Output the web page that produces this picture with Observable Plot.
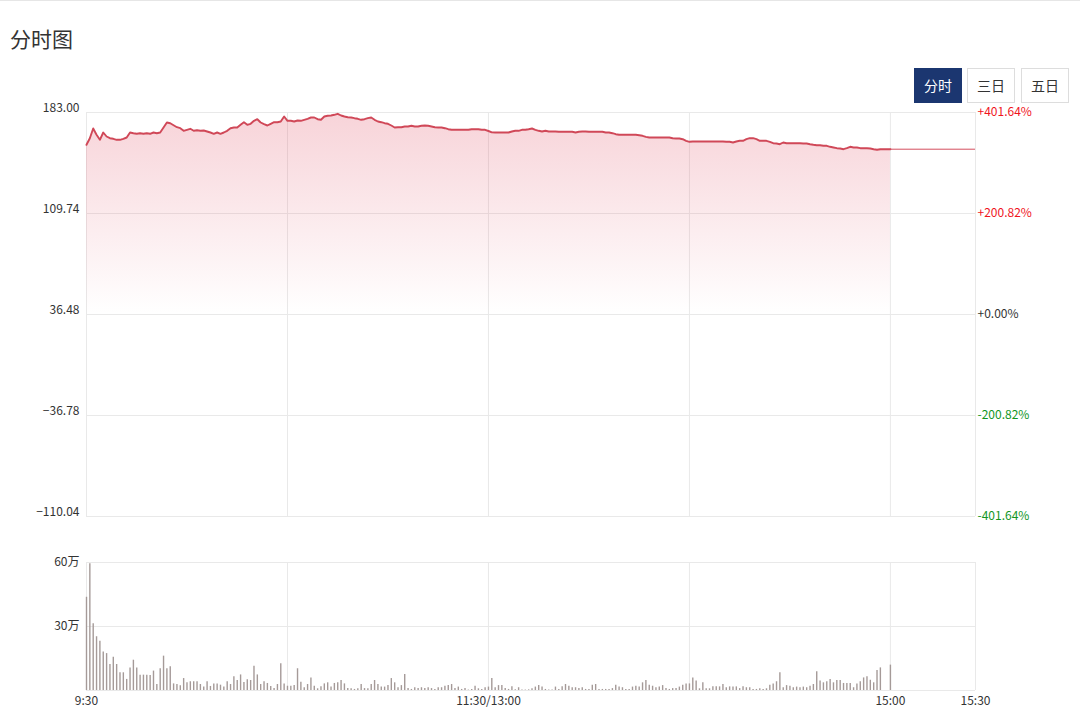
<!DOCTYPE html>
<html>
<head>
<meta charset="utf-8">
<script src="https://cdn.jsdelivr.net/npm/d3@7"></script>
<script src="https://cdn.jsdelivr.net/npm/@observablehq/plot@0.6"></script>
<style>
  body { margin: 0; background: #fff; font-family: "Noto Sans CJK SC", sans-serif; }
  #page { position: relative; width: 1080px; height: 719px; border-top: 1px solid #e6e6e6; box-sizing: border-box; overflow: hidden; }
  #title { position: absolute; left: 10px; top: 22px; font-size: 21px; color: #333; }
  .btn { position: absolute; top: 67px; width: 46px; height: 33px; line-height: 33px; text-align: center;
         font-size: 14px; color: #333; border: 1px solid #ddd; background: #fff; }
  .btn.on { background: #1b3670; border-color: #1b3670; color: #fff; }
  #price { position: absolute; left: 0; top: 98px; }
  #volume { position: absolute; left: 0; top: 548px; }
</style>
</head>
<body>
<div id="page">
  <div id="title">分时图</div>
  <div class="btn on" style="left:914px">分时</div>
  <div class="btn" style="left:967px">三日</div>
  <div class="btn" style="left:1021px">五日</div>
  <div id="price"></div>
  <div id="volume"></div>
</div>
<script>
// 分时价格 (每分钟, 9:30 -> 15:00, 共 241 点)
const prices = [
  159.57,164.36,171.39,166.82,163.20,168.49,165.59,164.36,163.92,163.20,
  163.20,163.92,164.87,168.49,167.98,167.55,167.98,167.55,167.98,167.55,
  168.49,167.98,168.49,172.12,175.75,175.24,173.79,172.34,171.61,169.73,
  170.45,171.18,169.73,170.16,169.73,169.94,169.22,168.49,167.55,168.49,
  167.55,168.49,169.73,171.61,172.12,172.12,174.08,175.96,174.08,174.80,
  176.98,178.14,175.75,174.51,173.57,174.80,175.96,175.96,176.47,180.10,
  176.98,176.98,176.47,177.20,176.98,177.71,178.43,179.37,179.37,178.14,
  177.71,180.10,180.61,180.82,181.33,182.06,180.82,180.10,179.59,179.37,
  178.87,178.43,177.71,178.14,178.87,179.37,177.71,176.47,175.96,175.24,
  174.80,173.57,172.12,172.34,172.34,172.85,172.85,173.35,172.85,172.85,
  173.35,173.57,173.35,172.85,172.34,172.12,172.12,171.61,170.89,170.45,
  170.45,170.45,170.45,170.45,170.45,170.89,170.89,170.89,170.45,170.45,
  169.58,168.60,168.49,168.49,168.49,168.49,168.49,169.22,169.73,169.73,
  170.45,170.45,170.89,171.39,170.45,169.73,169.22,169.73,169.22,169.22,
  169.22,169.00,169.00,169.00,169.00,169.00,168.49,169.00,169.22,169.22,
  169.00,169.00,169.00,169.00,169.00,168.49,168.49,167.98,167.26,166.82,
  166.82,166.82,166.82,166.82,166.82,166.53,166.10,165.37,164.87,164.87,
  164.87,164.87,164.87,164.87,164.87,164.36,164.14,164.14,163.63,162.47,
  161.75,161.97,161.97,161.97,161.97,161.97,161.97,161.97,161.97,161.97,
  161.97,161.75,161.75,161.24,161.97,162.47,162.47,163.63,164.36,164.36,
  163.63,162.47,162.47,162.47,161.75,160.73,160.51,160.01,161.24,160.73,
  160.73,160.73,160.73,160.73,160.51,160.51,160.01,159.57,159.28,159.28,
  158.85,158.85,158.12,157.61,157.11,156.89,156.38,157.11,158.12,157.61,
  157.61,157.11,157.11,157.11,156.89,156.38,155.94,156.38,156.38,156.38,
  156.38
];

// 成交量 (万)
const volumes = [
  43.7,59.4,31.3,25.2,23.1,18.0,17.3,12.2,15.6,12.2,
  8.3,8.3,5.2,10.6,14.2,10.6,7.2,7.2,7.2,7.0,
  9.1,2.8,10.2,16.1,10.2,11.1,3.1,2.8,2.2,5.6,
  3.6,4.1,4.1,4.1,2.8,1.6,4.1,1.9,3.1,3.1,
  2.5,1.6,4.1,2.8,6.4,4.7,7.3,3.8,5.0,4.7,
  11.4,7.3,2.8,4.1,3.3,1.9,0.9,2.8,12.5,3.1,
  2.0,2.0,2.3,10.2,3.9,1.3,2.8,5.9,2.0,0.8,
  1.7,3.1,3.6,1.6,3.3,3.6,4.7,3.1,0.9,0.8,
  0.5,0.8,2.8,0.9,0.8,2.8,4.7,2.8,1.6,1.6,
  2.3,5.6,3.6,1.3,2.3,7.5,0.9,0.5,1.3,0.9,
  1.3,0.9,1.3,0.9,0.5,1.3,1.3,2.0,2.3,2.8,
  0.9,1.6,0.5,0.9,0.2,0.5,2.0,0.8,0.5,1.3,
  1.6,5.6,1.3,2.3,2.3,0.9,0.5,1.7,0.3,1.3,
  0.2,0.2,0.3,0.8,1.6,2.3,1.6,0.5,0.2,0.2,
  1.6,0.5,1.7,2.8,2.0,1.3,1.3,0.9,1.3,0.5,
  0.5,2.5,2.8,0.5,0.5,0.5,0.5,0.9,2.5,1.6,
  1.3,0.5,0.5,1.6,2.0,1.6,3.6,4.7,2.5,2.0,
  1.3,1.6,2.3,0.9,0.5,0.9,0.9,1.6,2.5,3.1,
  3.1,5.9,4.4,0.8,3.6,0.8,0.8,1.7,1.7,1.7,
  2.8,1.3,1.7,1.6,1.7,0.9,1.7,1.3,1.3,0.5,
  0.5,0.8,0.5,0.8,2.5,3.1,4.1,8.3,1.3,2.3,
  2.0,1.3,1.6,1.3,1.6,1.3,2.0,2.8,8.8,4.4,
  3.6,4.1,5.2,3.6,4.7,4.7,3.3,3.3,3.3,1.3,
  3.1,4.1,5.9,6.4,4.8,3.6,9.4,10.6,0,0,
  11.9
];

const preClose = 36.48;
const priceTicks = [183.00, 109.74, 36.48, -36.78, -110.04];
const priceLabels = ["183.00", "109.74", "36.48", "−36.78", "−110.04"];
const pctLabels = ["+401.64%", "+200.82%", "+0.00%", "-200.82%", "-401.64%"];
const volTicks = [60, 30];
const volLabels = ["60万", "30万"];
// 分钟序号: 0 = 9:30, 120 = 11:30/13:00, 240 = 15:00, 轴末 = 15:30
const axisEnd = 265.4;
const timeGrid = [0, 60, 120, 180, 240, axisEnd];
const timeTicks = [0, 120, 240, axisEnd];
const timeLabels = ["9:30", "11:30/13:00", "15:00", "15:30"];

const series = prices.map((p, i) => ({i, p}));
const lastPoint = series[series.length - 1];

const font = '"Noto Sans CJK SC", sans-serif';
const gridColor = "#e9e9e9";

const gradient = () => {
  const defs = d3.create("svg:defs");
  const g = defs.append("linearGradient")
    .attr("id", "fillGrad").attr("x1", 0).attr("y1", 0).attr("x2", 0).attr("y2", 1);
  g.append("stop").attr("offset", "0%").attr("stop-color", "#e04a60").attr("stop-opacity", 0.24);
  g.append("stop").attr("offset", "100%").attr("stop-color", "#e04a60").attr("stop-opacity", 0.0);
  return defs.node();
};

const priceChart = Plot.plot({
  width: 1080,
  height: 431,
  marginLeft: 86,
  marginRight: 105,
  marginTop: 13,
  marginBottom: 14,
  x: {domain: [0, axisEnd], axis: null},
  y: {domain: [-110.04, 183.00], axis: null},
  style: {fontFamily: font, fontSize: "12px", background: "transparent", overflow: "visible"},
  marks: [
    gradient,
    Plot.ruleY(priceTicks, {stroke: gridColor}),
    Plot.ruleX(timeGrid, {stroke: gridColor}),
    Plot.areaY(series, {x: "i", y1: preClose, y2: "p", fill: "url(#fillGrad)"}),
    Plot.line(series, {x: "i", y: "p", stroke: "#d04858", strokeWidth: 1.9}),
    Plot.ruleY([lastPoint], {y: "p", x1: "i", x2: axisEnd, stroke: "#d44e5e", strokeWidth: 1}),
    Plot.text(priceLabels, {
      y: (d, i) => priceTicks[i], text: d => d, frameAnchor: "left",
      textAnchor: "end", dx: -7, dy: -4, fill: "#333"
    }),
    Plot.text(pctLabels, {
      y: (d, i) => priceTicks[i], text: d => d, frameAnchor: "right",
      textAnchor: "start", dx: 2,
      fill: d => d === "+0.00%" ? "#333333" : d[0] === "+" ? "#f0141e" : "#12961e"
    })
  ]
});
document.getElementById("price").appendChild(priceChart);

const volumeChart = Plot.plot({
  width: 1080,
  height: 171,
  marginLeft: 86,
  marginRight: 105,
  marginTop: 13,
  marginBottom: 30,
  x: {domain: [0, axisEnd], axis: null},
  y: {domain: [0, 60], axis: null},
  style: {fontFamily: font, fontSize: "12px", background: "transparent", overflow: "visible"},
  marks: [
    Plot.ruleY([60, 30, 0], {stroke: gridColor}),
    Plot.ruleX(timeGrid, {stroke: gridColor}),
    Plot.ruleX(volumes, {x: (d, i) => i, y1: 0, y2: d => d, stroke: "#a59a98", strokeWidth: 1.4}),
    Plot.text(volLabels, {
      y: (d, i) => volTicks[i], text: d => d, frameAnchor: "left",
      textAnchor: "end", dx: -7, fill: "#333"
    }),
    Plot.text(timeLabels, {
      x: (d, i) => timeTicks[i], text: d => d, frameAnchor: "bottom",
      dy: 14, fill: "#333"
    })
  ]
});
document.getElementById("volume").appendChild(volumeChart);
</script>
</body>
</html>
